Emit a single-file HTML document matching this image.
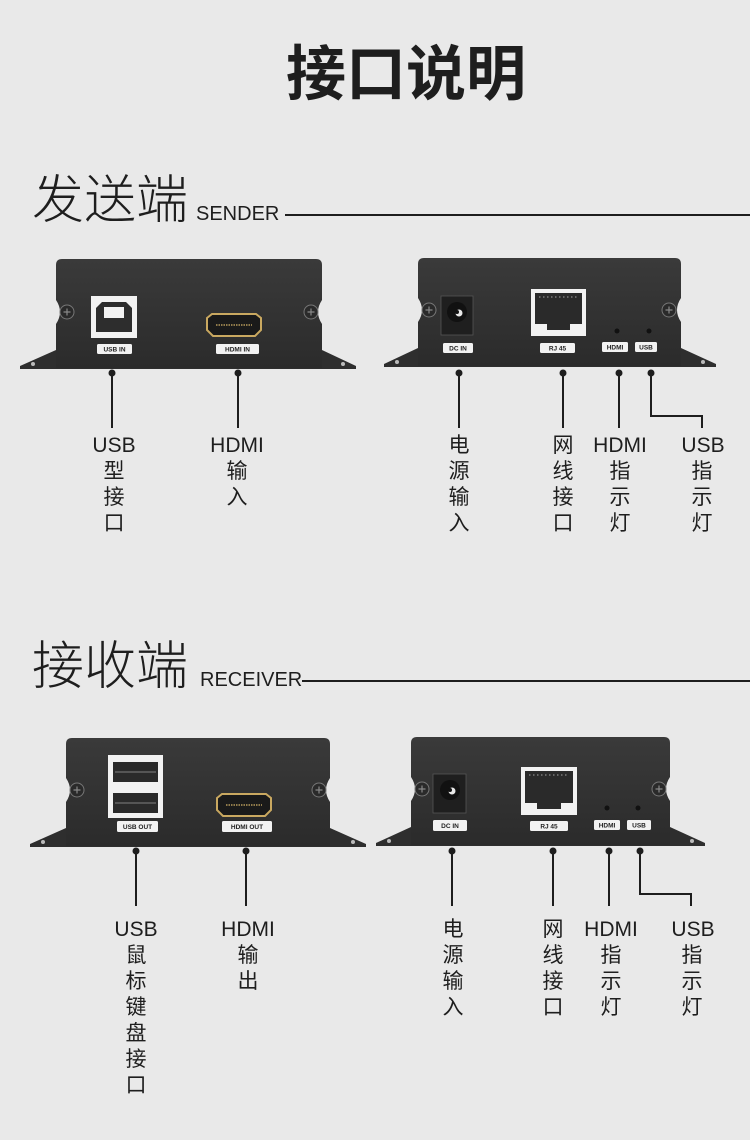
<!DOCTYPE html>
<html><head><meta charset="utf-8"><style>
html,body{margin:0;padding:0;background:#e9e9e9;}
svg{display:block;}
text{font-family:"Liberation Sans","Noto Sans CJK SC",sans-serif;fill:#1e1e1e;}
.lb{font-size:21px;text-anchor:middle;}
.pl{font-size:6.5px;font-weight:bold;text-anchor:middle;fill:#222;}
</style></head><body>
<svg width="750" height="1140" viewBox="0 0 750 1140" xmlns="http://www.w3.org/2000/svg">
<rect width="750" height="1140" fill="#e9e9e9"/>
<defs>
<linearGradient id="bd" x1="0" y1="0" x2="0" y2="1"><stop offset="0" stop-color="#3a3a3a"/><stop offset="1" stop-color="#2b2b2b"/></linearGradient>
<g id="screw"><circle r="7" fill="#2a2a2a" stroke="#777" stroke-width="1"/><path d="M-3.5 0H3.5M0 -3.5V3.5" stroke="#888" stroke-width="1.2"/></g>
</defs>
<text x="406" y="95" font-size="60" font-weight="bold" text-anchor="middle" style="font-family:'Noto Sans CJK SC',sans-serif">接口说明</text>

<!-- SENDER title -->
<text x="32" y="218" font-size="52" style="font-family:'Noto Sans CJK SC',sans-serif;font-weight:300">发送端</text>
<text x="196" y="220" font-size="20" style="font-family:'Liberation Sans',sans-serif">SENDER</text>
<line x1="285" y1="215" x2="750" y2="215" stroke="#1e1e1e" stroke-width="2"/>

<!-- sender left device -->
<polygon points="20,366 56,350 322,350 356,366 356,369 20,369" fill="#2e2e2e"/>
<circle cx="33" cy="364" r="2" fill="#bbb"/><circle cx="343" cy="364" r="2" fill="#bbb"/>
<path d="M56,265 Q56,259 62,259 H316 Q322,259 322,265 V300 Q314,312 322,324 V368 H56 V324 Q64,312 56,300 Z" fill="url(#bd)"/>
<use href="#screw" x="67" y="312"/><use href="#screw" x="311" y="312"/>
<rect x="91" y="296" width="46" height="42" fill="#f2f2f2"/>
<path d="M96,308 L102,302 H126 L132,308 V332 H96 Z" fill="#2d2d2d"/>
<rect x="104" y="307" width="20" height="11" fill="#f2f2f2"/>
<rect x="97" y="344" width="35" height="10" rx="1.5" fill="#f2f2f2"/><text class="pl" x="114.5" y="351.5">USB IN</text>
<path d="M207,318 L212,314 H256 L261,318 V330 L255,336 H213 L207,330 Z" fill="#1a1a1a" stroke="#c9a860" stroke-width="2"/>
<line x1="216" y1="325" x2="252" y2="325" stroke="#b69a5a" stroke-width="1.5" stroke-dasharray="1.5 1"/>
<rect x="216" y="344" width="43" height="10" rx="1.5" fill="#f2f2f2"/><text class="pl" x="237.5" y="351.5">HDMI  IN</text>

<g stroke="#1e1e1e" stroke-width="2" fill="none">
<line x1="112" y1="373" x2="112" y2="428"/><line x1="238" y1="373" x2="238" y2="428"/>
</g>
<circle cx="112" cy="373" r="3.5" fill="#1e1e1e"/><circle cx="238" cy="373" r="3.5" fill="#1e1e1e"/>
<text class="lb" x="114" y="452">USB</text><text class="lb" x="114" y="478">型</text><text class="lb" x="114" y="504">接</text><text class="lb" x="114" y="530">口</text>
<text class="lb" x="237" y="452">HDMI</text><text class="lb" x="237" y="478">输</text><text class="lb" x="237" y="504">入</text>

<!-- sender right device -->
<polygon points="384,364 418,348 681,348 716,364 716,367 384,367" fill="#2e2e2e"/>
<circle cx="397" cy="362" r="2" fill="#bbb"/><circle cx="703" cy="362" r="2" fill="#bbb"/>
<path d="M418,264 Q418,258 424,258 H675 Q681,258 681,264 V298 Q673,310 681,322 V366 H418 V322 Q426,310 418,298 Z" fill="url(#bd)"/>
<use href="#screw" x="429" y="310"/><use href="#screw" x="669" y="310"/>
<rect x="441" y="296" width="32" height="39" fill="#1f1f1f" stroke="#555" stroke-width="0.8"/>
<circle cx="457" cy="312" r="10" fill="#111"/><circle cx="459" cy="313" r="3.5" fill="#e8e8e8"/><circle cx="457" cy="312" r="2" fill="#111"/>
<rect x="443" y="343" width="30" height="10" rx="1.5" fill="#f2f2f2"/><text class="pl" x="458" y="350.5">DC  IN</text>
<rect x="531" y="289" width="55" height="47" fill="#f2f2f2"/>
<path d="M535,293 H582 V324 H570 V330 H547 V324 H535 Z" fill="#2a2a2a"/>
<line x1="539" y1="297" x2="578" y2="297" stroke="#666" stroke-width="2" stroke-dasharray="1.5 2.5"/>
<rect x="540" y="343" width="35" height="10" rx="1.5" fill="#f2f2f2"/><text class="pl" x="557.5" y="350.5">RJ 45</text>
<circle cx="617" cy="331" r="2.5" fill="#111"/><circle cx="649" cy="331" r="2.5" fill="#111"/>
<rect x="602" y="342" width="26" height="10" rx="1.5" fill="#f2f2f2"/><text class="pl" x="615" y="349.5">HDMI</text>
<rect x="635" y="342" width="22" height="10" rx="1.5" fill="#f2f2f2"/><text class="pl" x="646" y="349.5">USB</text>

<g stroke="#1e1e1e" stroke-width="2" fill="none">
<line x1="459" y1="373" x2="459" y2="428"/><line x1="563" y1="373" x2="563" y2="428"/><line x1="619" y1="373" x2="619" y2="428"/>
<polyline points="651,373 651,416 702,416 702,428"/>
</g>
<circle cx="459" cy="373" r="3.5" fill="#1e1e1e"/><circle cx="563" cy="373" r="3.5" fill="#1e1e1e"/><circle cx="619" cy="373" r="3.5" fill="#1e1e1e"/><circle cx="651" cy="373" r="3.5" fill="#1e1e1e"/>
<text class="lb" x="459" y="452">电</text><text class="lb" x="459" y="478">源</text><text class="lb" x="459" y="504">输</text><text class="lb" x="459" y="530">入</text>
<text class="lb" x="563" y="452">网</text><text class="lb" x="563" y="478">线</text><text class="lb" x="563" y="504">接</text><text class="lb" x="563" y="530">口</text>
<text class="lb" x="620" y="452">HDMI</text><text class="lb" x="620" y="478">指</text><text class="lb" x="620" y="504">示</text><text class="lb" x="620" y="530">灯</text>
<text class="lb" x="703" y="452">USB</text><text class="lb" x="702" y="478">指</text><text class="lb" x="702" y="504">示</text><text class="lb" x="702" y="530">灯</text>

<!-- RECEIVER title -->
<text x="32" y="684" font-size="52" style="font-family:'Noto Sans CJK SC',sans-serif;font-weight:300">接收端</text>
<text x="200" y="686" font-size="20" style="font-family:'Liberation Sans',sans-serif">RECEIVER</text>
<line x1="302" y1="681" x2="750" y2="681" stroke="#1e1e1e" stroke-width="2"/>

<!-- receiver left device -->
<polygon points="30,844 66,828 330,828 366,844 366,847 30,847" fill="#2e2e2e"/>
<circle cx="43" cy="842" r="2" fill="#bbb"/><circle cx="353" cy="842" r="2" fill="#bbb"/>
<path d="M66,744 Q66,738 72,738 H324 Q330,738 330,744 V778 Q322,790 330,802 V846 H66 V802 Q74,790 66,778 Z" fill="url(#bd)"/>
<use href="#screw" x="77" y="790"/><use href="#screw" x="319" y="790"/>
<rect x="108" y="755" width="55" height="63" fill="#f2f2f2"/>
<rect x="113" y="762" width="45" height="20" fill="#2a2a2a"/><rect x="113" y="793" width="45" height="20" fill="#2a2a2a"/>
<line x1="115" y1="772" x2="156" y2="772" stroke="#555" stroke-width="2"/><line x1="115" y1="803" x2="156" y2="803" stroke="#555" stroke-width="2"/>
<rect x="117" y="821" width="41" height="11" rx="1.5" fill="#f2f2f2"/><text class="pl" x="137.5" y="829">USB OUT</text>
<path d="M217,798 L222,794 H266 L271,798 V810 L265,816 H223 L217,810 Z" fill="#1a1a1a" stroke="#c9a860" stroke-width="2"/>
<line x1="226" y1="805" x2="262" y2="805" stroke="#b69a5a" stroke-width="1.5" stroke-dasharray="1.5 1"/>
<rect x="222" y="821" width="50" height="11" rx="1.5" fill="#f2f2f2"/><text class="pl" x="247" y="829">HDMI  OUT</text>

<g stroke="#1e1e1e" stroke-width="2" fill="none">
<line x1="136" y1="851" x2="136" y2="906"/><line x1="246" y1="851" x2="246" y2="906"/>
</g>
<circle cx="136" cy="851" r="3.5" fill="#1e1e1e"/><circle cx="246" cy="851" r="3.5" fill="#1e1e1e"/>
<text class="lb" x="136" y="936">USB</text><text class="lb" x="136" y="962">鼠</text><text class="lb" x="136" y="988">标</text><text class="lb" x="136" y="1014">键</text><text class="lb" x="136" y="1040">盘</text><text class="lb" x="136" y="1066">接</text><text class="lb" x="136" y="1092">口</text>
<text class="lb" x="248" y="936">HDMI</text><text class="lb" x="248" y="962">输</text><text class="lb" x="248" y="988">出</text>

<!-- receiver right device -->
<polygon points="376,843 411,827 670,827 705,843 705,846 376,846" fill="#2e2e2e"/>
<circle cx="389" cy="841" r="2" fill="#bbb"/><circle cx="692" cy="841" r="2" fill="#bbb"/>
<path d="M411,743 Q411,737 417,737 H664 Q670,737 670,743 V777 Q662,789 670,801 V845 H411 V801 Q419,789 411,777 Z" fill="url(#bd)"/>
<use href="#screw" x="422" y="789"/><use href="#screw" x="659" y="789"/>
<rect x="433" y="774" width="33" height="39" fill="#1f1f1f" stroke="#555" stroke-width="0.8"/>
<circle cx="450" cy="790" r="10" fill="#111"/><circle cx="452" cy="791" r="3.5" fill="#e8e8e8"/><circle cx="450" cy="790" r="2" fill="#111"/>
<rect x="433" y="820" width="34" height="11" rx="1.5" fill="#f2f2f2"/><text class="pl" x="450" y="828">DC  IN</text>
<rect x="521" y="767" width="56" height="48" fill="#f2f2f2"/>
<path d="M525,771 H573 V803 H561 V809 H537 V803 H525 Z" fill="#2a2a2a"/>
<line x1="529" y1="775" x2="569" y2="775" stroke="#666" stroke-width="2" stroke-dasharray="1.5 2.5"/>
<rect x="530" y="821" width="38" height="10" rx="1.5" fill="#f2f2f2"/><text class="pl" x="549" y="828.5">RJ 45</text>
<circle cx="607" cy="808" r="2.5" fill="#111"/><circle cx="638" cy="808" r="2.5" fill="#111"/>
<rect x="594" y="820" width="26" height="10" rx="1.5" fill="#f2f2f2"/><text class="pl" x="607" y="827.5">HDMI</text>
<rect x="627" y="820" width="24" height="10" rx="1.5" fill="#f2f2f2"/><text class="pl" x="639" y="827.5">USB</text>

<g stroke="#1e1e1e" stroke-width="2" fill="none">
<line x1="452" y1="851" x2="452" y2="906"/><line x1="553" y1="851" x2="553" y2="906"/><line x1="609" y1="851" x2="609" y2="906"/>
<polyline points="640,851 640,894 691,894 691,906"/>
</g>
<circle cx="452" cy="851" r="3.5" fill="#1e1e1e"/><circle cx="553" cy="851" r="3.5" fill="#1e1e1e"/><circle cx="609" cy="851" r="3.5" fill="#1e1e1e"/><circle cx="640" cy="851" r="3.5" fill="#1e1e1e"/>
<text class="lb" x="453" y="936">电</text><text class="lb" x="453" y="962">源</text><text class="lb" x="453" y="988">输</text><text class="lb" x="453" y="1014">入</text>
<text class="lb" x="553" y="936">网</text><text class="lb" x="553" y="962">线</text><text class="lb" x="553" y="988">接</text><text class="lb" x="553" y="1014">口</text>
<text class="lb" x="611" y="936">HDMI</text><text class="lb" x="611" y="962">指</text><text class="lb" x="611" y="988">示</text><text class="lb" x="611" y="1014">灯</text>
<text class="lb" x="693" y="936">USB</text><text class="lb" x="692" y="962">指</text><text class="lb" x="692" y="988">示</text><text class="lb" x="692" y="1014">灯</text>
</svg>
</body></html>
